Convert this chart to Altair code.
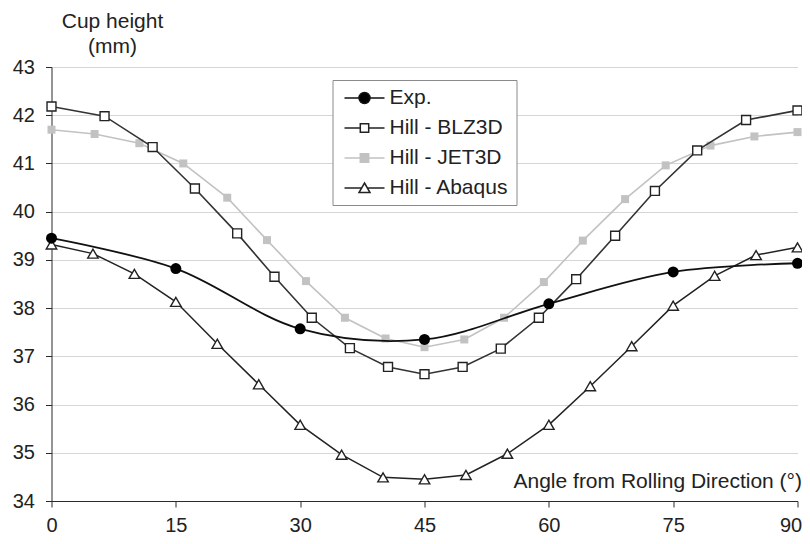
import altair as alt
import pandas as pd

series_names = ["Exp.", "Hill - BLZ3D", "Hill - JET3D", "Hill - Abaqus"]

exp_angle = [0, 15, 30, 45, 60, 75, 90]
exp_val = [39.45, 38.82, 37.57, 37.35, 38.09, 38.75, 38.93]

blz_angle = [0, 6.4, 12.2, 17.3, 22.4, 26.9, 31.4, 36.0, 40.6, 45.0, 49.6, 54.2, 58.8, 63.3, 68.0, 72.8, 77.9, 83.8, 90]
blz_val = [42.18, 41.98, 41.34, 40.48, 39.55, 38.65, 37.80, 37.17, 36.78, 36.63, 36.78, 37.16, 37.80, 38.60, 39.50, 40.43, 41.27, 41.90, 42.10]

jet_angle = [0, 5.2, 10.6, 15.9, 21.2, 26.0, 30.7, 35.4, 40.3, 45.0, 49.8, 54.6, 59.4, 64.1, 69.2, 74.1, 79.5, 84.8, 90]
jet_val = [41.70, 41.61, 41.42, 41.00, 40.29, 39.41, 38.56, 37.80, 37.37, 37.19, 37.35, 37.80, 38.54, 39.40, 40.26, 40.96, 41.37, 41.56, 41.65]

aba_angle = [0, 5, 10, 15, 20, 25, 30, 35, 40, 45, 50, 55, 60, 65, 70, 75, 80, 85, 90]
aba_val = [39.32, 39.13, 38.71, 38.13, 37.26, 36.42, 35.58, 34.96, 34.49, 34.45, 34.54, 34.98, 35.58, 36.38, 37.21, 38.05, 38.67, 39.10, 39.26]

x_ticks = [0, 15, 30, 45, 60, 75, 90]
y_ticks = [34, 35, 36, 37, 38, 39, 40, 41, 42, 43]

FONT = "Liberation Sans"
DARK = "#2a2a2a"
GREY = "#c2c2c2"


def frame(name, a, v):
    return pd.DataFrame({"angle": a, "height": v, "series": name})


df = pd.concat([
    frame(series_names[0], exp_angle, exp_val),
    frame(series_names[1], blz_angle, blz_val),
    frame(series_names[2], jet_angle, jet_val),
    frame(series_names[3], aba_angle, aba_val),
], ignore_index=True)

x_enc = alt.X(
    "angle:Q",
    scale=alt.Scale(domain=[0, 90], nice=False, zero=False),
    axis=alt.Axis(
        values=x_ticks, grid=False, title="Angle from Rolling Direction (°)",
        titleX=750, titleY=-13.5, titleAlign="right", titleBaseline="alphabetic",
        titleFontSize=21, titleFontWeight="normal", titleFont=FONT, titleColor="#222",
        labelFontSize=20, labelFont=FONT, labelColor="#222", labelPadding=8,
        labelOffset={"condition": {"test": "datum.value == 90", "value": -7}, "value": 0},
        tickSize=6, tickColor=DARK, domainColor=DARK, labelFlush=False,
    ),
)
y_enc = alt.Y(
    "height:Q",
    scale=alt.Scale(domain=[34, 43], nice=False, zero=False),
    axis=alt.Axis(
        values=y_ticks, grid=True, gridColor="#d6d6d6", gridWidth=1.2,
        title=["Cup height", "(mm)"], titleAngle=0, titleX=60.5, titleY=-39.7,
        titleAlign="center", titleBaseline="alphabetic", titleLineHeight=25,
        titleFontSize=21, titleFontWeight="normal", titleFont=FONT, titleColor="#222",
        labelFontSize=20, labelFont=FONT, labelColor="#222", labelPadding=11,
        tickSize=6, tickColor=DARK, domainColor=DARK,
    ),
)

base = alt.Chart(df).encode(x=x_enc, y=y_enc)


def only(name):
    return alt.datum.series == name


jet_line = base.transform_filter(only("Hill - JET3D")).mark_line(color=GREY, strokeWidth=1.6)
jet_pts = base.transform_filter(only("Hill - JET3D")).mark_point(
    shape="square", filled=True, color=GREY, size=64, opacity=1)

blz_line = base.transform_filter(only("Hill - BLZ3D")).mark_line(color="#333333", strokeWidth=1.6)
blz_pts = base.transform_filter(only("Hill - BLZ3D")).mark_point(
    shape="square", fill="white", stroke="#222222", strokeWidth=1.4, size=80, opacity=1, fillOpacity=1)

aba_line = base.transform_filter(only("Hill - Abaqus")).mark_line(color="#222222", strokeWidth=1.5)
aba_pts = base.transform_filter(only("Hill - Abaqus")).mark_point(
    shape="triangle-up", fill="white", stroke="#222222", strokeWidth=1.4, size=110, opacity=1, fillOpacity=1)

exp_line = base.transform_filter(only("Exp.")).mark_line(
    color="#111111", strokeWidth=1.8, interpolate="catmull-rom")
exp_pts = base.transform_filter(only("Exp.")).mark_point(
    shape="circle", filled=True, color="#000000", size=121, opacity=1)

legend_paths = [
    "M-2,0H-0.55M0.55,0H2M-0.55,0A0.55,0.55,0,1,0,0.55,0A0.55,0.55,0,1,0,-0.55,0Z",
    "M-2,0H-0.42M0.42,0H2M-0.42,-0.42H0.42V0.42H-0.42Z",
    "M-2,0H-0.42M0.42,0H2M-0.42,-0.42H0.42V0.42H-0.42Z",
    "M-2,0H-0.3M0.3,0H2M0,-0.5L0.55,0.45H-0.55Z",
]
legend_fill = ["#000000", "#ffffff", GREY, "#ffffff"]
legend_stroke = ["#111111", "#222222", GREY, "#222222"]

leg = alt.Legend(
    title=None, orient="none", legendX=281, legendY=13,
    labelFont=FONT, labelFontSize=21, labelColor="#222", labelOffset=14,
    symbolOffset=14, symbolSize=400, symbolStrokeWidth=1.5, symbolOpacity=1,
    strokeColor="#8a8a8a", fillColor="white", padding=7, rowPadding=9,
    labelLimit=300,
)

legend_layer = base.mark_point(opacity=0, size=400, strokeWidth=1.5).encode(
    shape=alt.Shape("series:N", scale=alt.Scale(domain=series_names, range=legend_paths), legend=leg),
    fill=alt.Fill("series:N", scale=alt.Scale(domain=series_names, range=legend_fill), legend=leg),
    stroke=alt.Stroke("series:N", scale=alt.Scale(domain=series_names, range=legend_stroke), legend=leg),
)

chart = alt.layer(
    legend_layer,
    jet_line, jet_pts, blz_line, blz_pts, aba_line, aba_pts, exp_line, exp_pts,
).properties(
    width=746, height=434,
    autosize=alt.AutoSizeParams(type="none"),
    padding={"left": 43.5, "top": 59, "right": 4.5, "bottom": 35},
    background="white",
).configure_view(stroke=None)

chart.save("out.html", embed_options={"renderer": "svg", "actions": False})
